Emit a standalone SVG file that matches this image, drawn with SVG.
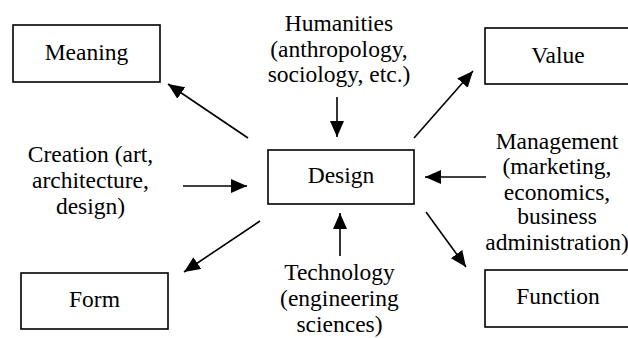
<svg xmlns="http://www.w3.org/2000/svg" width="628" height="338" viewBox="0 0 628 338">
  <style>
    .box { fill: #fff; stroke: #000; stroke-width: 1.6; }
    .lbl { font-family: Liberation Serif, Times New Roman, Times, serif; font-size: 23.5px; fill: #000; text-anchor: middle; }
    .edge { stroke: #000; stroke-width: 1.6; fill: none; marker-end: url(#head); }
  </style>
  <defs>
    <marker id="head" markerUnits="userSpaceOnUse" markerWidth="17" markerHeight="15" refX="16" refY="7" orient="auto">
      <path d="M0,0 L16,7 L0,14 z" fill="#000"/>
    </marker>
  </defs>
  <rect width="628" height="338" fill="#fff"/>

  <g id="connectors">
    <line class="edge" x1="248" y1="138" x2="168" y2="84"/>
    <line class="edge" x1="337" y1="97" x2="337" y2="137"/>
    <line class="edge" x1="414" y1="138" x2="473" y2="71"/>
    <line class="edge" x1="183" y1="186" x2="247" y2="186"/>
    <line class="edge" x1="486" y1="177" x2="425" y2="177"/>
    <line class="edge" x1="260" y1="221" x2="184" y2="272"/>
    <line class="edge" x1="340" y1="256" x2="340" y2="213"/>
    <line class="edge" x1="426" y1="212" x2="466" y2="267"/>
  </g>

  <g id="meaning">
    <rect class="box" x="13" y="25" width="147" height="57"/>
    <text class="lbl" x="86.5" y="60">Meaning</text>
  </g>
  <g id="value">
    <rect class="box" x="485" y="28" width="146" height="56"/>
    <text class="lbl" x="558" y="63">Value</text>
  </g>
  <g id="design">
    <rect class="box" x="268" y="150" width="146" height="54"/>
    <text class="lbl" x="341" y="183">Design</text>
  </g>
  <g id="form">
    <rect class="box" x="21" y="273" width="147" height="56"/>
    <text class="lbl" x="94.5" y="307">Form</text>
  </g>
  <g id="function">
    <rect class="box" x="485" y="270" width="146" height="57"/>
    <text class="lbl" x="558" y="304">Function</text>
  </g>

  <g id="humanities">
    <text class="lbl" x="339" y="31">Humanities</text>
    <text class="lbl" x="339" y="57">(anthropology,</text>
    <text class="lbl" x="339" y="82">sociology, etc.)</text>
  </g>
  <g id="creation">
    <text class="lbl" x="90.5" y="162">Creation (art,</text>
    <text class="lbl" x="90.5" y="188">architecture,</text>
    <text class="lbl" x="90.5" y="214">design)</text>
  </g>
  <g id="management">
    <text class="lbl" x="557" y="149">Management</text>
    <text class="lbl" x="557" y="174">(marketing,</text>
    <text class="lbl" x="557" y="200">economics,</text>
    <text class="lbl" x="557" y="224">business</text>
    <text class="lbl" x="557" y="250">administration)</text>
  </g>
  <g id="technology">
    <text class="lbl" x="339.5" y="280">Technology</text>
    <text class="lbl" x="339.5" y="306">(engineering</text>
    <text class="lbl" x="339.5" y="332">sciences)</text>
  </g>
</svg>
